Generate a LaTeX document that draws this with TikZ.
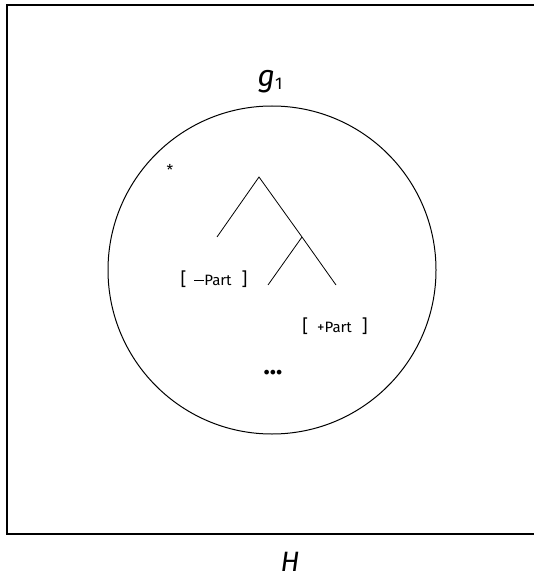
\documentclass[tikz,border=0pt]{standalone}
\usepackage{fontspec}
\setmainfont{Fira Sans}
\usetikzlibrary{positioning}
\begin{document}
\begin{tikzpicture}[x=1pt, y=-1pt]
\tikzstyle{feat} = [font=\fontsize{15}{17}\selectfont, inner sep=0pt]
\tikzstyle{t} = [line width=0.8pt]
\clip (0,0) rectangle (534,585);
\useasboundingbox (0,0) rectangle (534,585);
\draw [line width=1.8pt] (7,5) rectangle (560,534);
\node [font=\fontsize{30}{32}\selectfont] (g1) at (270,82) {\textit{g}\raisebox{-3pt}{\fontsize{17}{18}\selectfont 1}};
\node [font=\fontsize{28}{30}\selectfont\itshape] (H) at (290,562) {H};
\draw [line width=1pt] (272,270) circle (164pt);
\node [font=\fontsize{15}{16}\selectfont] (star) at (170,170) {*};
% tree
\coordinate (root) at (259,177);
\coordinate (left) at (217,237);
\coordinate (mid) at (302,237);
\coordinate (midleft) at (268,285);
\coordinate (midright) at (336,285);
\draw [t] (left) -- (root) -- (mid) -- (midright);
\draw [t] (mid) -- (midleft);
\node [feat] (minus) at (214,279) {{\fontsize{18}{20}\selectfont[}\hspace{8pt}\rule[4.5pt]{10pt}{0.9pt}Part\hspace{10pt}{\fontsize{18}{20}\selectfont]}};
\node [feat] (plus) at (335,326) {{\fontsize{18}{20}\selectfont[}\hspace{9pt}+Part\hspace{10pt}{\fontsize{18}{20}\selectfont]}};
\node [font=\fontsize{26}{28}\selectfont\bfseries] (dots) at (273,373) {...};
\end{tikzpicture}
\end{document}
